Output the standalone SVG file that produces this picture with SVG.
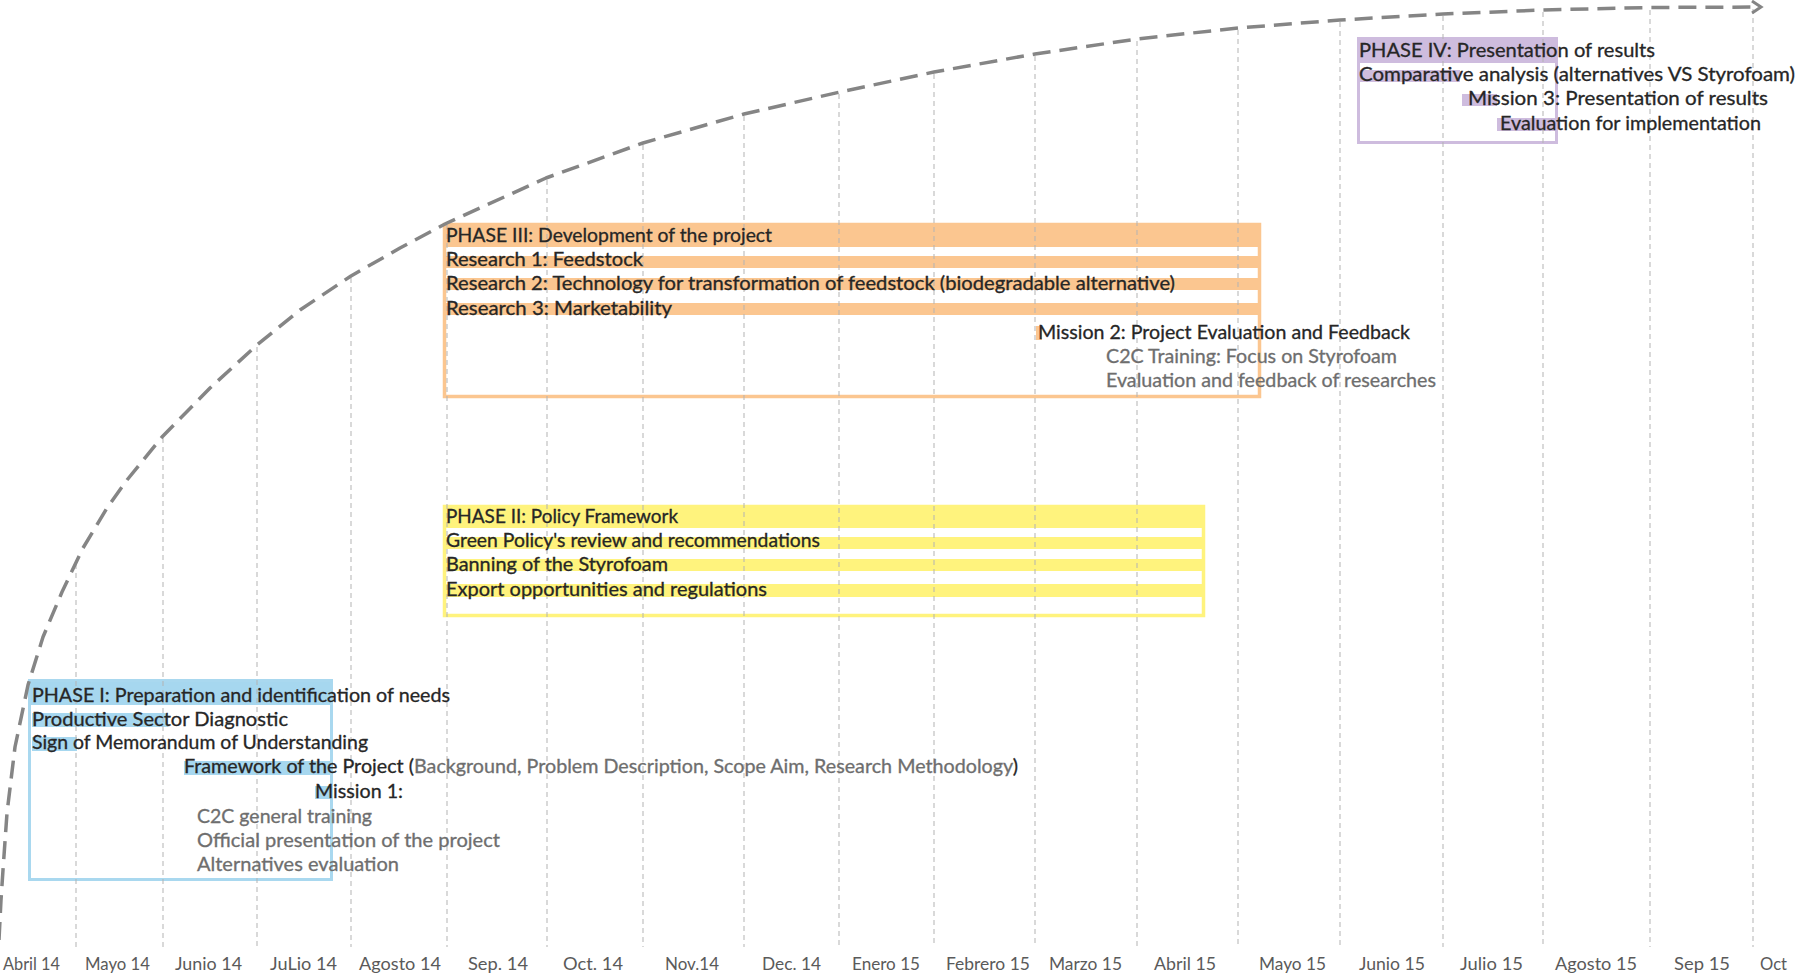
<svg xmlns="http://www.w3.org/2000/svg" width="1806" height="973" viewBox="0 0 1806 973">
<defs>
<style>
.t{font-family:Lato,"Open Sans","Liberation Sans",sans-serif;font-size:19px;fill:#262626;stroke:#262626;stroke-width:0.3}
.g{fill:#6e6e6e;stroke:#6e6e6e}
.lbl{font-family:Lato,"Liberation Sans",sans-serif;font-size:16.5px;fill:#5a5a5a}
.grid{stroke:#b3b3b3;stroke-width:1;stroke-dasharray:5 4;fill:none}
.curve{stroke:#858585;stroke-width:3.5;stroke-dasharray:18 9;fill:none;stroke-linejoin:round}
.blue{fill:#a6d7ef}
.blueb{fill:none;stroke:#a9d8ef;stroke-width:3}
.orange{fill:#fbc690}
.orangeb{fill:none;stroke:#fbc690;stroke-width:3.5}
.yellow{fill:#fff37d}
.yellowb{fill:none;stroke:#fff37d;stroke-width:3.5}
.lav{fill:#cebcde}
.lavb{fill:none;stroke:#cebcde;stroke-width:3}
</style>
<marker id="arrow" markerUnits="userSpaceOnUse" markerWidth="14" markerHeight="16" refX="10" refY="7" orient="auto">
<path d="M1,1 L10,7 L1,13" fill="none" stroke="#858585" stroke-width="3"/>
</marker>
</defs>
<rect width="1806" height="973" fill="#ffffff"/>

<g id="phase1">
<rect x="28" y="679" width="305" height="26" class="blue"/>
<rect x="32" y="713" width="136" height="14" class="blue"/>
<rect x="32" y="737" width="45" height="14" class="blue"/>
<rect x="184" y="761" width="148" height="14" class="blue"/>
<rect x="315" y="786" width="17" height="13" class="blue"/>
<rect x="29.5" y="680.5" width="302" height="199" class="blueb"/>
</g>

<g id="phase2">
<rect x="443" y="505" width="762" height="23" class="yellow"/>
<rect x="443" y="537" width="762" height="12" class="yellow"/>
<rect x="443" y="559" width="762" height="12" class="yellow"/>
<rect x="443" y="584" width="762" height="13" class="yellow"/>
<rect x="444.5" y="506.5" width="759" height="109" class="yellowb"/>
</g>

<g id="phase3">
<rect x="443" y="223" width="818" height="24" class="orange"/>
<rect x="443" y="256" width="818" height="12" class="orange"/>
<rect x="443" y="278" width="818" height="12" class="orange"/>
<rect x="443" y="303" width="818" height="12" class="orange"/>
<rect x="1036" y="326" width="6" height="14" class="orange"/>
<rect x="444.5" y="224.5" width="815" height="172" class="orangeb"/>
</g>

<g id="phase4">
<rect x="1357" y="37" width="201" height="26" class="lav"/>
<rect x="1359" y="70" width="101" height="12" class="lav"/>
<rect x="1462" y="94" width="35" height="12" class="lav"/>
<rect x="1497" y="118" width="61" height="13" class="lav"/>
<rect x="1358.5" y="38.5" width="198" height="104" class="lavb"/>
</g>

<g id="timeline">
<line class="grid" x1="76" y1="564" x2="76" y2="947"/>
<line class="grid" x1="163" y1="438" x2="163" y2="947"/>
<line class="grid" x1="257" y1="347" x2="257" y2="947"/>
<line class="grid" x1="351" y1="278" x2="351" y2="947"/>
<line class="grid" x1="447" y1="225" x2="447" y2="947"/>
<line class="grid" x1="547" y1="180" x2="547" y2="947"/>
<line class="grid" x1="643" y1="145" x2="643" y2="947"/>
<line class="grid" x1="744" y1="116" x2="744" y2="947"/>
<line class="grid" x1="839" y1="94" x2="839" y2="947"/>
<line class="grid" x1="934" y1="74" x2="934" y2="947"/>
<line class="grid" x1="1035" y1="56" x2="1035" y2="947"/>
<line class="grid" x1="1137" y1="41" x2="1137" y2="947"/>
<line class="grid" x1="1238" y1="30" x2="1238" y2="947"/>
<line class="grid" x1="1340" y1="22" x2="1340" y2="947"/>
<line class="grid" x1="1443" y1="16" x2="1443" y2="947"/>
<line class="grid" x1="1543" y1="12" x2="1543" y2="947"/>
<line class="grid" x1="1650" y1="10" x2="1650" y2="947"/>
<line class="grid" x1="1753" y1="9" x2="1753" y2="947"/>
</g>

<g id="connectors">
<path class="curve" marker-end="url(#arrow)" d="M-1,940 L1,900 L3,870 L7,813 L15,747 L28,685 L43,637 L62,592 L83,548 L107,508 L127,480 L162,437 L210,388 L257,345 L300,310 L351,276 L400,248 L447,223 L546,178 L643,143 L744,114 L840,92 L934,72 L1035,54 L1137,39 L1238,28 L1340,20 L1443,14 L1543,10 L1650,7.5 L1761,7"/>
</g>

<g id="phase1-text">
<text class="t" x="32" y="702" textLength="418" lengthAdjust="spacingAndGlyphs">PHASE I: Preparation and identification of needs</text>
<text class="t" x="32" y="726" textLength="256" lengthAdjust="spacingAndGlyphs">Productive Sector Diagnostic</text>
<text class="t" x="32" y="749" textLength="336" lengthAdjust="spacingAndGlyphs">Sign of Memorandum of Understanding</text>
<text class="t" x="184" y="773" textLength="834" lengthAdjust="spacingAndGlyphs">Framework of the Project (<tspan class="g">Background, Problem Description, Scope Aim, Research Methodology</tspan>)</text>
<text class="t" x="315" y="798" textLength="88" lengthAdjust="spacingAndGlyphs">Mission 1:</text>
<text class="t g" x="197" y="823" textLength="175" lengthAdjust="spacingAndGlyphs">C2C general training</text>
<text class="t g" x="197" y="847" textLength="303" lengthAdjust="spacingAndGlyphs">Official presentation of the project</text>
<text class="t g" x="197" y="871" textLength="202" lengthAdjust="spacingAndGlyphs">Alternatives evaluation</text>
</g>

<g id="phase2-text">
<text class="t" x="446" y="523" textLength="232" lengthAdjust="spacingAndGlyphs">PHASE II: Policy Framework</text>
<text class="t" x="446" y="547" textLength="374" lengthAdjust="spacingAndGlyphs">Green Policy's review and recommendations</text>
<text class="t" x="446" y="571" textLength="222" lengthAdjust="spacingAndGlyphs">Banning of the Styrofoam</text>
<text class="t" x="446" y="596" textLength="321" lengthAdjust="spacingAndGlyphs">Export opportunities and regulations</text>
</g>

<g id="phase3-text">
<text class="t" x="446" y="242" textLength="326" lengthAdjust="spacingAndGlyphs">PHASE III: Development of the project</text>
<text class="t" x="446" y="266" textLength="197" lengthAdjust="spacingAndGlyphs">Research 1: Feedstock</text>
<text class="t" x="446" y="290" textLength="729" lengthAdjust="spacingAndGlyphs">Research 2: Technology for transformation of feedstock (biodegradable alternative)</text>
<text class="t" x="446" y="315" textLength="226" lengthAdjust="spacingAndGlyphs">Research 3: Marketability</text>
<text class="t" x="1038" y="339" textLength="372" lengthAdjust="spacingAndGlyphs">Mission 2: Project Evaluation and Feedback</text>
<text class="t g" x="1106" y="363" textLength="291" lengthAdjust="spacingAndGlyphs">C2C Training: Focus on Styrofoam</text>
<text class="t g" x="1106" y="387" textLength="330" lengthAdjust="spacingAndGlyphs">Evaluation and feedback of researches</text>
</g>

<g id="phase4-text">
<text class="t" x="1359" y="57" textLength="296" lengthAdjust="spacingAndGlyphs">PHASE IV: Presentation of results</text>
<text class="t" x="1359" y="81" textLength="436" lengthAdjust="spacingAndGlyphs">Comparative analysis (alternatives VS Styrofoam)</text>
<text class="t" x="1468" y="105" textLength="300" lengthAdjust="spacingAndGlyphs">Mission 3: Presentation of results</text>
<text class="t" x="1500" y="130" textLength="261" lengthAdjust="spacingAndGlyphs">Evaluation for implementation</text>
</g>

<g id="months">
<text class="lbl" x="3" y="970" textLength="57" lengthAdjust="spacingAndGlyphs">Abril 14</text>
<text class="lbl" x="85" y="970" textLength="65" lengthAdjust="spacingAndGlyphs">Mayo 14</text>
<text class="lbl" x="175" y="970" textLength="67" lengthAdjust="spacingAndGlyphs">Junio 14</text>
<text class="lbl" x="270" y="970" textLength="67" lengthAdjust="spacingAndGlyphs">JuLio 14</text>
<text class="lbl" x="359" y="970" textLength="82" lengthAdjust="spacingAndGlyphs">Agosto 14</text>
<text class="lbl" x="468" y="970" textLength="60" lengthAdjust="spacingAndGlyphs">Sep. 14</text>
<text class="lbl" x="563" y="970" textLength="60" lengthAdjust="spacingAndGlyphs">Oct. 14</text>
<text class="lbl" x="665" y="970" textLength="54" lengthAdjust="spacingAndGlyphs">Nov.14</text>
<text class="lbl" x="762" y="970" textLength="59" lengthAdjust="spacingAndGlyphs">Dec. 14</text>
<text class="lbl" x="852" y="970" textLength="68" lengthAdjust="spacingAndGlyphs">Enero 15</text>
<text class="lbl" x="946" y="970" textLength="84" lengthAdjust="spacingAndGlyphs">Febrero 15</text>
<text class="lbl" x="1049" y="970" textLength="73" lengthAdjust="spacingAndGlyphs">Marzo 15</text>
<text class="lbl" x="1154" y="970" textLength="62" lengthAdjust="spacingAndGlyphs">Abril 15</text>
<text class="lbl" x="1259" y="970" textLength="67" lengthAdjust="spacingAndGlyphs">Mayo 15</text>
<text class="lbl" x="1359" y="970" textLength="66" lengthAdjust="spacingAndGlyphs">Junio 15</text>
<text class="lbl" x="1460" y="970" textLength="63" lengthAdjust="spacingAndGlyphs">Julio 15</text>
<text class="lbl" x="1555" y="970" textLength="82" lengthAdjust="spacingAndGlyphs">Agosto 15</text>
<text class="lbl" x="1674" y="970" textLength="56" lengthAdjust="spacingAndGlyphs">Sep 15</text>
<text class="lbl" x="1760" y="970" textLength="27" lengthAdjust="spacingAndGlyphs">Oct</text>
</g>
</svg>
